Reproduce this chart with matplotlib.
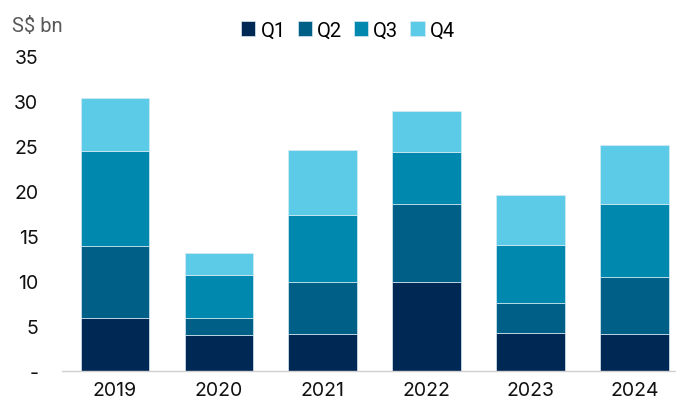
import matplotlib
matplotlib.use("Agg")
import matplotlib.pyplot as plt
import numpy as np

years = ["2019", "2020", "2021", "2022", "2023", "2024"]
q1 = [5.9, 4.0, 4.1, 9.9, 4.2, 4.1]
q2 = [8.0, 1.9, 5.8, 8.7, 3.4, 6.3]
q3 = [10.5, 4.8, 7.4, 5.7, 6.4, 8.2]
q4 = [5.9, 2.4, 7.3, 4.6, 5.6, 6.5]
series_names = ["Q1", "Q2", "Q3", "Q4"]
colors = ["#002855", "#005F86", "#0088AE", "#5BCBE8"]
yticks = [0, 5, 10, 15, 20, 25, 30, 35]
ytick_labels = ["-", "5", "10", "15", "20", "25", "30", "35"]

plt.rcParams['font.family'] = ['Inter', 'DejaVu Sans']

fig = plt.figure(figsize=(6.76, 4.06), dpi=100)
ax = fig.add_axes([62/676, 34/406, 1 - 62/676, (372-57)/406])

x = np.arange(len(years))
bottom = np.zeros(len(years))
for name, vals, c in zip(series_names, [q1, q2, q3, q4], colors):
    ax.bar(x, vals, width=0.66, bottom=bottom, color=c, label=name,
           edgecolor="#D8EAF2", linewidth=0.5)
    bottom += np.array(vals)

ax.set_xlim(-0.51, 5.4)
ax.set_ylim(0, 35)
ax.set_xticks(x)
ax.set_xticklabels(years, fontsize=14, color="#111111")
ax.set_yticks(yticks)
ax.set_yticklabels(ytick_labels, fontsize=14, color="#111111")
ax.tick_params(axis='both', length=0)
ax.tick_params(axis='y', pad=17)
ax.tick_params(axis='x', pad=7)
for s in ["top", "right", "left"]:
    ax.spines[s].set_visible(False)
ax.spines["bottom"].set_color("#D0D0D0")
ax.spines["bottom"].set_linewidth(1)

fig.text(12/676, 1 - 26/406, "S$ bn", fontsize=14.5, color="#595959",
         family=['Roboto', 'DejaVu Sans'], va='center', ha='left')

leg = fig.legend(loc='center', bbox_to_anchor=(348/676, 1 - 31/406), ncol=4,
                 frameon=False, handlelength=0.7, handleheight=0.7,
                 handletextpad=0.25, columnspacing=0.6,
                 prop={'family': ['Roboto', 'DejaVu Sans'], 'size': 14.5})

fig.savefig("out.png", dpi=100)
